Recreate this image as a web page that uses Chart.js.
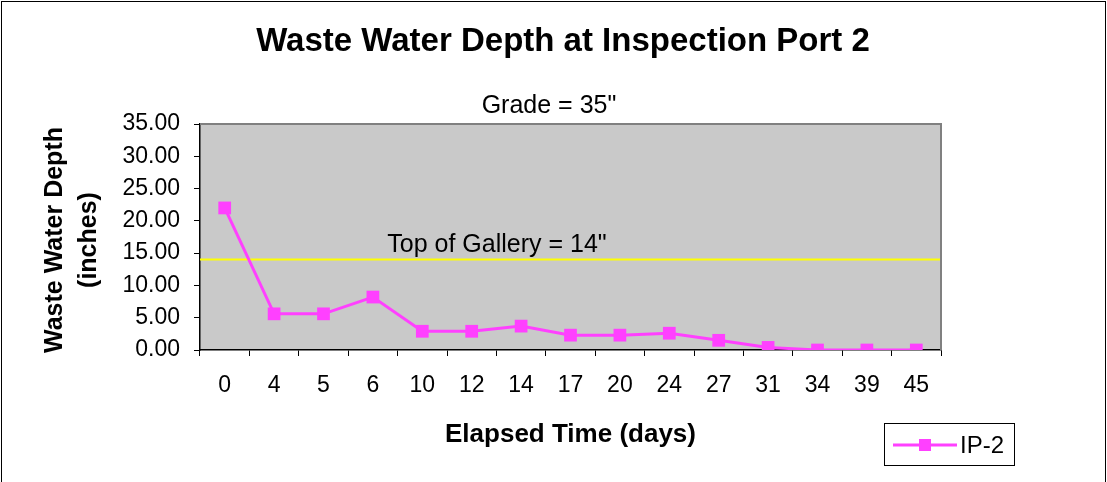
<!DOCTYPE html>
<html>
<head>
<meta charset="utf-8">
<script src="https://cdn.jsdelivr.net/npm/chart.js@4/dist/chart.umd.min.js"></script>
<style>
  html, body { margin: 0; padding: 0; background: #fff; }
  #wrap { width: 1107px; height: 482px; }
</style>
</head>
<body>
<div id="wrap"><canvas id="depth"></canvas></div>
<script>
// ---------- DATA ----------
const days = ['0', '4', '5', '6', '10', '12', '14', '17', '20', '24', '27', '31', '34', '39', '45'];
const depthIP2 = [22, 5.6, 5.6, 8.2, 2.9, 2.9, 3.7, 2.3, 2.3, 2.6, 1.5, 0.4, 0, 0, 0];
const yTicks = [0, 5, 10, 15, 20, 25, 30, 35];
const gradeLevel = 35;
const galleryTop = 14;

const FONT = 'Arial, "Liberation Sans", sans-serif';
const MAGENTA = '#ff40ff';

// draws frame, plot background, titles and legend
const decorations = {
  id: 'decorations',
  beforeDraw(chart) {
    const { ctx, chartArea: a } = chart;
    ctx.save();
    ctx.fillStyle = '#fff';
    ctx.fillRect(0, 0, chart.width, chart.height);
    ctx.strokeStyle = '#000';
    ctx.lineWidth = 1;
    ctx.strokeRect(1.5, 1.5, chart.width - 3, chart.height + 10);
    ctx.fillStyle = '#c9c9c9';
    ctx.fillRect(a.left, a.top, a.right - a.left, a.bottom - a.top);
    ctx.restore();
  },
  afterDatasetsDraw(chart) {
    const { ctx, chartArea: a } = chart;
    ctx.save();
    // plot border top/right
    ctx.strokeStyle = '#808080';
    ctx.lineWidth = 2;
    ctx.beginPath();
    ctx.moveTo(a.left, a.top);
    ctx.lineTo(a.right, a.top);
    ctx.lineTo(a.right, a.bottom);
    ctx.stroke();
    ctx.restore();
  },
  afterDraw(chart) {
    const { ctx, chartArea: a, scales } = chart;
    const cx = (a.left + a.right) / 2;
    ctx.save();
    ctx.fillStyle = '#000';
    ctx.textAlign = 'center';
    ctx.textBaseline = 'middle';

    ctx.font = 'bold 33px ' + FONT;
    ctx.fillText('Waste Water Depth at Inspection Port 2', 563, 42);

    ctx.font = '25px ' + FONT;
    ctx.fillText('Grade = ' + gradeLevel + '"', 549, scales.y.getPixelForValue(gradeLevel) - 18);
    ctx.fillText('Top of Gallery = ' + galleryTop + '"', 497, scales.y.getPixelForValue(galleryTop) - 14);

    ctx.font = 'bold 26px ' + FONT;
    ctx.fillText('Elapsed Time (days)', cx, 435);

    ctx.font = 'bold 25px ' + FONT;
    ctx.translate(55, 240);
    ctx.rotate(-Math.PI / 2);
    ctx.fillText('Waste Water Depth', 0, 0);
    ctx.fillText('(inches)', 0, 34);
    ctx.restore();

    // legend
    ctx.save();
    ctx.fillStyle = '#fff';
    ctx.fillRect(884, 423, 130, 42);
    ctx.strokeStyle = '#000';
    ctx.lineWidth = 1;
    ctx.strokeRect(884.5, 423.5, 130, 42);
    ctx.strokeStyle = MAGENTA;
    ctx.lineWidth = 3;
    ctx.beginPath();
    ctx.moveTo(893, 445);
    ctx.lineTo(957, 445);
    ctx.stroke();
    ctx.fillStyle = MAGENTA;
    ctx.fillRect(919, 439, 12, 12);
    ctx.fillStyle = '#000';
    ctx.font = '24px ' + FONT;
    ctx.textBaseline = 'middle';
    ctx.fillText('IP-2', 960, 446);
    ctx.restore();
  }
};

// yellow "top of gallery" line, under the data
const galleryLine = {
  id: 'galleryLine',
  beforeDatasetsDraw(chart) {
    const { ctx, chartArea: a, scales } = chart;
    const y = scales.y.getPixelForValue(galleryTop);
    ctx.save();
    ctx.strokeStyle = '#ffff00';
    ctx.lineWidth = 2;
    ctx.beginPath();
    ctx.moveTo(a.left, y);
    ctx.lineTo(a.right, y);
    ctx.stroke();
    ctx.restore();
  }
};

new Chart(document.getElementById('depth'), {
  type: 'line',
  data: {
    labels: days,
    datasets: [{
      label: 'IP-2',
      data: depthIP2,
      borderColor: MAGENTA,
      backgroundColor: MAGENTA,
      borderWidth: 3,
      pointStyle: 'rect',
      pointRadius: 9,
      pointHoverRadius: 9,
      pointBorderWidth: 0,
      tension: 0
    }]
  },
  options: {
    responsive: true,
    maintainAspectRatio: false,
    animation: false,
    events: [],
    layout: { padding: { left: 0, top: 124, right: 166, bottom: 0 } },
    plugins: {
      legend: { display: false },
      title: { display: false },
      tooltip: { enabled: false }
    },
    scales: {
      x: {
        offset: true,
        afterFit(s) { s.height = 132; },
        border: { color: '#000', width: 1.5 },
        grid: { offset: true, drawOnChartArea: false, color: '#000', tickLength: 6 },
        ticks: { color: '#000', font: { family: FONT, size: 23 }, padding: 16, maxRotation: 0, autoSkip: false }
      },
      y: {
        min: 0,
        max: 35,
        afterFit(s) { s.width = 200; },
        afterBuildTicks(s) { s.ticks = yTicks.map(v => ({ value: v })); },
        border: { color: '#000', width: 1.5 },
        grid: { drawOnChartArea: false, color: '#000', tickLength: 6 },
        ticks: {
          color: '#000',
          font: { family: FONT, size: 23 },
          padding: 14,
          callback: v => v.toFixed(2)
        }
      }
    }
  },
  plugins: [decorations, galleryLine]
});
</script>
</body>
</html>
